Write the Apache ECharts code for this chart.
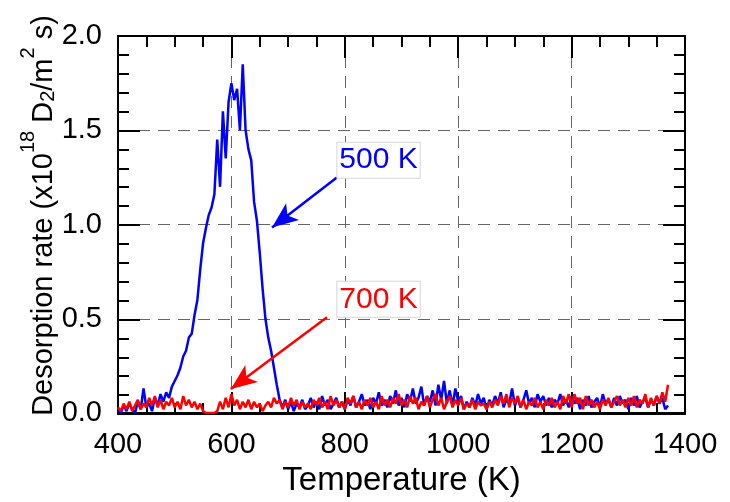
<!DOCTYPE html>
<html>
<head>
<meta charset="utf-8">
<script src="https://cdn.jsdelivr.net/npm/echarts@6/dist/echarts.min.js"></script>
<style>html,body{margin:0;padding:0;background:#fff;}#chart{width:730px;height:502px;}</style>
</head>
<body>
<div id="chart"></div>
<script>
// Temperature grid (K): first sample and step of the readings below
const tempStart = 400;
const tempStep = 5;
const xTicks = [400, 600, 800, 1000, 1200, 1400];
const yTicks = [0.0, 0.5, 1.0, 1.5, 2.0];
const xMinorPerMajor = 4;
const yMinorPerMajor = 5;

// 500 K sample (blue), values read every 5 K from 400 K to 1370 K
const rate500K = [
  0.02,0.00,0.04,0.01,0.05,0.02,0.00,0.06,0.02,0.13,
  0.03,0.05,0.01,0.08,0.04,0.10,0.06,0.11,0.08,0.14,
  0.17,0.20,0.24,0.30,0.33,0.40,0.42,0.52,0.60,0.76,
  0.90,0.98,1.05,1.09,1.16,1.45,1.20,1.60,1.35,1.65,
  1.75,1.66,1.72,1.50,1.85,1.50,1.40,1.34,1.12,1.02,
  0.85,0.66,0.50,0.40,0.33,0.24,0.15,0.07,0.03,0.07,
  0.02,0.06,0.01,0.05,0.03,0.07,0.02,0.04,0.08,0.03,
  0.06,0.02,0.09,0.04,0.07,0.02,0.05,0.08,0.03,0.06,
  0.02,0.07,0.04,0.09,0.03,0.06,0.10,0.04,0.07,0.02,
  0.08,0.05,0.11,0.04,0.07,0.03,0.09,0.05,0.12,0.04,
  0.08,0.03,0.10,0.06,0.13,0.05,0.08,0.14,0.04,0.09,
  0.06,0.12,0.04,0.15,0.07,0.17,0.05,0.12,0.04,0.13,
  0.06,0.09,0.02,0.06,0.03,0.08,0.04,0.10,0.05,0.08,
  0.02,0.07,0.04,0.09,0.05,0.11,0.03,0.07,0.05,0.13,
  0.04,0.08,0.03,0.07,0.12,0.05,0.08,0.03,0.10,0.06,
  0.09,0.04,0.08,0.03,0.07,0.05,0.10,0.04,0.07,0.03,
  0.09,0.05,0.08,0.02,0.07,0.04,0.09,0.03,0.06,0.08,
  0.03,0.10,0.05,0.07,0.03,0.08,0.04,0.09,0.05,0.07,
  0.02,0.08,0.04,0.09,0.03,0.06,0.08,0.03,0.07,0.04,
  0.09,0.05,0.08,0.02,0.04
];

// 700 K sample (red), same temperature grid
const rate700K = [
  0.03,0.01,0.05,0.02,0.06,0.01,0.04,0.07,0.02,0.05,
  0.03,0.08,0.04,0.09,0.03,0.07,0.02,0.06,0.04,0.08,
  0.03,0.06,0.02,0.09,0.04,0.07,0.03,0.06,0.02,0.05,
  0.01,0.00,0.00,0.00,0.00,0.01,0.06,0.02,0.08,0.03,
  0.10,0.04,0.07,0.02,0.06,0.03,0.07,0.02,0.06,0.03,
  0.05,0.01,0.04,0.06,0.03,0.08,0.05,0.07,0.02,0.06,
  0.03,0.08,0.04,0.07,0.02,0.06,0.03,0.05,0.02,0.07,
  0.04,0.08,0.03,0.06,0.02,0.09,0.04,0.07,0.03,0.06,
  0.02,0.08,0.05,0.09,0.03,0.06,0.02,0.07,0.04,0.08,
  0.03,0.06,0.02,0.09,0.04,0.07,0.03,0.08,0.05,0.10,
  0.04,0.07,0.03,0.09,0.05,0.08,0.02,0.06,0.04,0.09,
  0.03,0.07,0.10,0.04,0.08,0.02,0.06,0.09,0.03,0.07,
  0.04,0.08,0.02,0.05,0.03,0.07,0.02,0.06,0.04,0.05,
  0.02,0.06,0.03,0.07,0.04,0.09,0.05,0.10,0.03,0.08,
  0.05,0.09,0.03,0.07,0.02,0.06,0.04,0.08,0.03,0.06,
  0.02,0.07,0.04,0.08,0.03,0.06,0.02,0.09,0.05,0.10,
  0.03,0.10,0.05,0.08,0.02,0.09,0.04,0.07,0.03,0.06,
  0.02,0.07,0.04,0.08,0.03,0.06,0.09,0.04,0.07,0.03,
  0.08,0.04,0.09,0.03,0.07,0.05,0.10,0.03,0.08,0.04,
  0.09,0.05,0.11,0.06,0.15
];

// Annotations: [label position, arrow start, arrow tip] in data units
const label500 = { text: '500 K', at: [786, 1.341], from: [786, 1.249], to: [671.6, 0.984] };
const label700 = { text: '700 K', at: [786, 0.603], from: [768.6, 0.508], to: [599, 0.127] };

function pairs(vals) {
  return vals.map((v, i) => [tempStart + i * tempStep, v]);
}

const FONT = '"Liberation Sans", Arial, sans-serif';
const chart = echarts.init(document.getElementById('chart'), null, { renderer: 'canvas' });

const G = { left: 118, right: 45, top: 36, bottom: 88 };
const tickLen = 22, minorLen = 11;
const xRange = { min: xTicks[0], max: xTicks[xTicks.length - 1], interval: xTicks[1] - xTicks[0] };
const yRange = { min: yTicks[0], max: yTicks[yTicks.length - 1], interval: yTicks[1] - yTicks[0] };
function black() { return { color: '#000', width: 2 }; }

// Main axes: labels, names, dashed grid lines
const xMain = Object.assign({
  gridIndex: 0, type: 'value', position: 'bottom',
  axisLine: { show: true, onZero: false, lineStyle: black() },
  axisTick: { show: false }, minorTick: { show: false },
  axisLabel: { show: true, margin: 17, fontSize: 29, color: '#000', fontFamily: FONT, formatter: v => String(v) },
  splitLine: { show: true, lineStyle: { color: '#666', width: 1, type: [12, 8] } },
  name: 'Temperature (K)', nameLocation: 'middle', nameGap: 51,
  nameTextStyle: { fontSize: 33, color: '#000', fontFamily: FONT }
}, xRange);
const yMain = Object.assign({
  gridIndex: 0, type: 'value', position: 'left',
  axisLine: { show: true, onZero: false, lineStyle: black() },
  axisTick: { show: false }, minorTick: { show: false },
  axisLabel: { show: true, margin: 16, fontSize: 29, color: '#000', fontFamily: FONT, formatter: v => v.toFixed(1) },
  splitLine: { show: true, lineStyle: { color: '#666', width: 1, type: [12, 8] } },
  name: '{m|Desorption rate (x10}{sup|18}{m| D}{sub|2}{m|/m}{sup|2}{m| s)}',
  nameLocation: 'middle', nameRotate: 90, nameGap: 60, nameMoveOverlap: false,
  nameTextStyle: {
    fontFamily: FONT, color: '#000', padding: [0, 0, 0, 18],
    rich: {
      m: { fontSize: 29, lineHeight: 40, fontFamily: FONT, color: '#000', verticalAlign: 'bottom' },
      sup: { fontSize: 20, lineHeight: 20, fontFamily: FONT, color: '#000', verticalAlign: 'top' },
      sub: { fontSize: 20, lineHeight: 14, fontFamily: FONT, color: '#000', verticalAlign: 'bottom' }
    }
  }
}, yRange);

// Tick-only frame axes on an identical second grid
function frameAxis(range, pos, split) {
  return Object.assign({
    gridIndex: 1, type: 'value', position: pos,
    axisLine: { show: true, onZero: false, lineStyle: black() },
    axisTick: { show: true, inside: true, length: tickLen, lineStyle: black() },
    minorTick: { show: true, splitNumber: split, length: minorLen, lineStyle: black() },
    axisLabel: { show: false }, splitLine: { show: false }
  }, range);
}

function labelPoint(l, color) {
  return {
    symbol: 'rect', symbolSize: 1, silent: true,
    itemStyle: { color: 'rgba(0,0,0,0)' },
    label: {
      show: true, position: 'right', distance: 0, formatter: l.text,
      fontSize: 30, lineHeight: 30, color: color, fontFamily: FONT,
      backgroundColor: '#fff', borderColor: '#d6d6d6', borderWidth: 1, padding: [3, 2, 2, 2]
    },
    data: [{ coord: l.at }]
  };
}
function arrowLine(l, color) {
  return {
    silent: true, symbol: ['none', 'arrow'], symbolSize: [16, 26],
    lineStyle: { color: color, width: 2.5, type: 'solid' },
    label: { show: false },
    emphasis: { disabled: true },
    data: [[{ coord: l.from }, { coord: l.to }]]
  };
}

chart.setOption({
  animation: false,
  backgroundColor: '#fff',
  grid: [Object.assign({ containLabel: false }, G), Object.assign({ containLabel: false }, G)],
  xAxis: [xMain, frameAxis(xRange, 'top', xMinorPerMajor), frameAxis(xRange, 'bottom', xMinorPerMajor)],
  yAxis: [yMain, frameAxis(yRange, 'right', yMinorPerMajor), frameAxis(yRange, 'left', yMinorPerMajor)],
  series: [
    {
      name: '500 K', type: 'line', xAxisIndex: 0, yAxisIndex: 0, data: pairs(rate500K),
      showSymbol: false, symbol: 'none', lineStyle: { color: '#0000ff', width: 2.5 },
      itemStyle: { color: '#0000ff' },
      markLine: arrowLine(label500, '#0000ff'),
      markPoint: labelPoint(label500, '#0000ff')
    },
    {
      name: '700 K', type: 'line', xAxisIndex: 0, yAxisIndex: 0, data: pairs(rate700K),
      showSymbol: false, symbol: 'none', lineStyle: { color: '#ff0000', width: 2.5 },
      itemStyle: { color: '#ff0000' },
      markLine: arrowLine(label700, '#ff0000'),
      markPoint: labelPoint(label700, '#ff0000')
    },
    { name: 'frameA', type: 'line', xAxisIndex: 1, yAxisIndex: 1, data: [], silent: true },
    { name: 'frameB', type: 'line', xAxisIndex: 2, yAxisIndex: 2, data: [], silent: true }
  ]
});
</script>
</body>
</html>
